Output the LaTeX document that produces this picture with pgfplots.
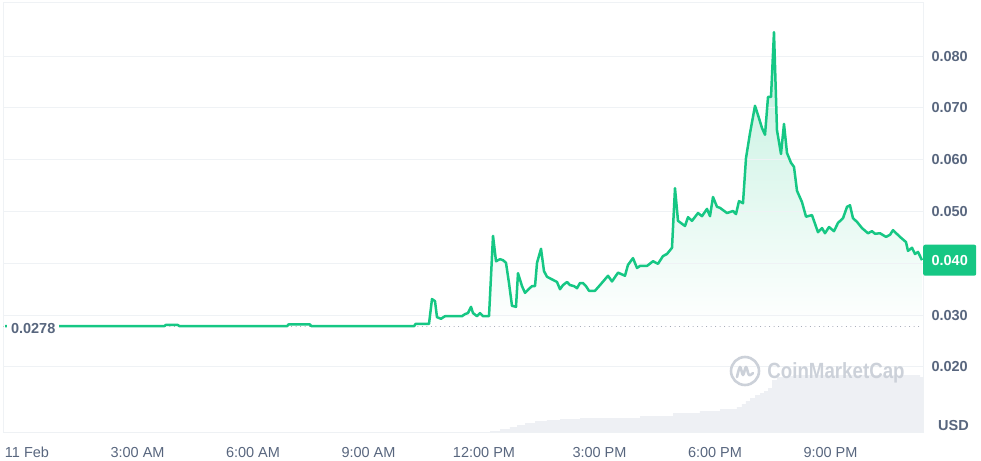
\documentclass[border=0pt]{standalone}
\usepackage{pgfplots}
\pgfplotsset{compat=1.18}
\usepackage{pgfplotstable}
\usepackage{fontspec}
\usepackage{graphicx}
\setmainfont{Liberation Sans}
\definecolor{cmcgreen}{RGB}{22,199,132}
\definecolor{labgray}{RGB}{88,102,126}
\definecolor{gridgray}{RGB}{239,242,245}
\definecolor{volgray}{RGB}{238,240,244}
\definecolor{wmgray}{RGB}{204,209,217}
\definecolor{dotgray}{RGB}{150,158,172}

\pgfplotstableread{
h v
-0.442 0.0279
3.700 0.0279
3.730 0.0281
4.050 0.0281
4.080 0.0279
6.890 0.0279
6.920 0.0282
7.480 0.0282
7.510 0.0279
10.190 0.0279
10.220 0.0283
10.571 0.0283
10.649 0.0331
10.727 0.0327
10.779 0.0296
10.883 0.0293
10.987 0.0298
11.429 0.0298
11.506 0.0302
11.584 0.0304
11.662 0.0316
11.714 0.0304
11.818 0.0298
11.896 0.0304
11.974 0.0298
12.130 0.0298
12.234 0.0453
12.312 0.0404
12.416 0.0408
12.494 0.0406
12.571 0.0401
12.649 0.0362
12.727 0.0318
12.831 0.0316
12.883 0.0381
12.987 0.0356
13.065 0.0343
13.143 0.0349
13.247 0.0356
13.325 0.0356
13.377 0.0401
13.481 0.0428
13.558 0.0385
13.636 0.0374
13.740 0.0370
13.896 0.0364
13.974 0.0350
14.052 0.0358
14.156 0.0364
14.234 0.0358
14.338 0.0356
14.416 0.0352
14.494 0.0362
14.571 0.0362
14.649 0.0356
14.727 0.0347
14.883 0.0347
15.013 0.0358
15.221 0.0376
15.325 0.0365
15.481 0.0382
15.662 0.0376
15.740 0.0397
15.870 0.0410
15.974 0.0391
16.052 0.0395
16.234 0.0395
16.390 0.0404
16.519 0.0399
16.649 0.0414
16.753 0.0418
16.883 0.0430
16.961 0.0545
17.039 0.0482
17.221 0.0472
17.299 0.0489
17.403 0.0482
17.558 0.0497
17.662 0.0491
17.792 0.0505
17.870 0.0491
17.948 0.0528
18.052 0.0509
18.130 0.0507
18.312 0.0497
18.468 0.0501
18.545 0.0495
18.623 0.0520
18.727 0.0516
18.805 0.0603
18.909 0.0651
19.039 0.0704
19.117 0.0686
19.221 0.0661
19.299 0.0648
19.377 0.0721
19.455 0.0721
19.532 0.0846
19.610 0.0657
19.714 0.0611
19.792 0.0669
19.870 0.0613
19.974 0.0594
20.052 0.0586
20.130 0.0540
20.260 0.0518
20.364 0.0490
20.519 0.0493
20.675 0.0460
20.779 0.0468
20.857 0.0458
20.961 0.0470
21.091 0.0462
21.195 0.0478
21.325 0.0487
21.429 0.0509
21.506 0.0512
21.584 0.0487
21.688 0.0480
21.818 0.0468
21.974 0.0458
22.078 0.0462
22.156 0.0457
22.286 0.0458
22.442 0.0451
22.545 0.0455
22.623 0.0464
22.805 0.0451
22.961 0.0441
23.013 0.0424
23.117 0.0430
23.195 0.0418
23.273 0.0422
23.377 0.0406
}\price

\pgfplotstableread{
h vol
-0.494 0
11.896 0
12.156 1
12.416 3
12.675 5
12.857 7
13.065 9
13.325 11
13.636 12
13.974 13
14.494 14
15.273 14
16.052 16
16.909 19
17.610 21
18.130 23
18.571 25
18.701 28
18.805 31
18.909 34
19.039 37
19.169 39
19.273 41
19.377 44
19.481 52
19.610 55
19.818 56
20.026 57
23.247 57
23.325 55
23.403 55
}\volume

\begin{document}
\begin{tikzpicture}
\useasboundingbox (-3pt,-28pt) rectangle (978pt,432pt);
% area under the price line, measured from the 0.0278 reference level
\begin{axis}[
  scale only axis, width=920pt, height=429pt,
  xmin=-0.494, xmax=23.403, ymin=-0.02035, ymax=0.06243,
  hide axis, scaled y ticks=false,
]
\addplot[draw=none, top color=cmcgreen!27!white, bottom color=white] table[x=h, y expr=\thisrow{v}-0.0278] {\price} \closedcycle;
\end{axis}
\begin{axis}[
  scale only axis, width=920pt, height=429pt,
  xmin=-0.494, xmax=23.403, ymin=0.00745, ymax=0.09023,
  scaled y ticks=false,
  axis line style={draw=gridgray, line width=1pt},
  ymajorgrids, grid style={draw=gridgray, line width=1pt},
  xtick={0,3,6,9,12,15,18,21},
  xticklabels={\hspace*{10pt}11 Feb,3:00 AM,6:00 AM,9:00 AM,12:00 PM,3:00 PM,6:00 PM,9:00 PM},
  ytick={0.02,0.03,0.04,0.05,0.06,0.07,0.08},
  yticklabels={0.020,0.030,{},0.050,0.060,0.070,0.080},
  yticklabel pos=right,
  major tick length=0pt, tick style={draw=none},
  /pgf/number format/assume math mode=true,
  xticklabel style={font=\fontsize{14.5}{17}\selectfont, text=labgray, anchor=base, yshift=-25pt, inner sep=0pt},
  yticklabel style={font=\fontsize{14.5}{17}\selectfont\bfseries, text=labgray, anchor=east, xshift=45pt, inner sep=0pt},
]
\addplot[dotgray, line width=1pt, dash pattern=on 0.01pt off 4.5pt, line cap=round, forget plot] coordinates {(-0.494,0.0278) (23.403,0.0278)};
\addplot[cmcgreen, line width=2.5pt, line join=round] table[x=h, y=v] {\price};
\coordinate (lab) at (axis cs:-0.494,0.0278);
\coordinate (last) at (axis cs:23.403,0.0406);
\end{axis}
\begin{axis}[
  scale only axis, width=920pt, height=429pt,
  xmin=-0.494, xmax=23.403, ymin=0, ymax=429,
  hide axis,
]
\addplot[const plot, fill=volgray, draw=none] table[x=h, y=vol] {\volume} \closedcycle;
\end{axis}
% left reference label
\node[fill=white, anchor=west, inner sep=0pt, minimum height=20pt, minimum width=52pt,
      text=labgray, font=\fontsize{14.5}{17}\selectfont\bfseries, yshift=-2pt] at ([xshift=4pt]lab) {0.0278};
% last price box
\node[fill=cmcgreen, rounded corners=2pt, minimum width=53pt, minimum height=31pt, anchor=west,
      inner sep=0pt, text=white, font=\fontsize{14.5}{17}\selectfont\bfseries] at (last) {0.040};
% currency label
\node[anchor=base east, inner sep=0pt, text=labgray, font=\fontsize{14.5}{17}\selectfont\bfseries] at (966pt,2pt) {USD};
% watermark
\draw[wmgray, line width=2.6pt] (742pt,61pt) circle (14pt);
\draw[wmgray, line width=2.6pt, line cap=round, line join=round, shift={(742pt,61pt)}]
  plot[smooth, tension=0.6] coordinates {(-8pt,-6pt) (-5pt,4pt) (-2pt,-4pt) (1pt,4pt) (4pt,-4pt) (8pt,-2pt)};
\node[text=wmgray, inner sep=0pt] at (833pt,59pt) {\scalebox{0.85}[1]{\fontsize{22}{24}\selectfont\bfseries CoinMarketCap}};
\end{tikzpicture}
\end{document}
